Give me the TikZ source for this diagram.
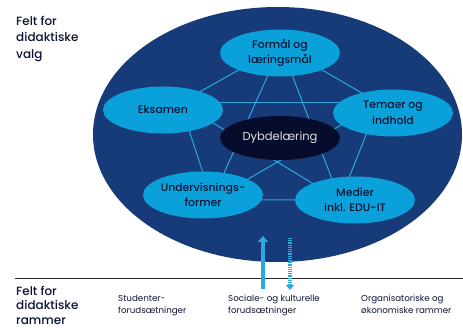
\documentclass[tikz,border=0pt]{standalone}
\usepackage{fontspec}
\setmainfont{Poppins}
\newfontfamily\medfont{Poppins Medium}
\usetikzlibrary{arrows.meta,shapes.geometric}
\definecolor{bigblue}{HTML}{173A78}
\definecolor{cyanell}{HTML}{0AA0DA}
\definecolor{navy}{HTML}{080C2C}
\definecolor{linkc}{HTML}{29A9E1}
\definecolor{txt}{HTML}{0D1433}
\pgfdeclarelayer{back}
\pgfdeclarelayer{lines}
\pgfsetlayers{back,lines,main}
\begin{document}
\begin{tikzpicture}[x=1pt,y=-1pt,
  outer/.style={ellipse, fill=cyanell, minimum width=120pt, minimum height=47pt, inner sep=0pt,
    font=\medfont\fontsize{10.9}{15.5}\selectfont, text=txt, align=center},
  core/.style={ellipse, fill=navy, minimum width=120pt, minimum height=44pt, inner sep=0pt,
    font=\fontsize{11.5}{14}\selectfont, text=white!88!black},
  link/.style={draw=linkc, line width=1pt},
  head/.style={font=\medfont\fontsize{12}{16.5}\selectfont, text=txt, align=left, anchor=north west, inner sep=0pt},
  foot/.style={font=\fontsize{8.7}{12}\selectfont, text=txt, align=left, anchor=north west, inner sep=0pt},
  flow/.style={draw=linkc, line width=3.5pt}
]
\useasboundingbox (0,0) rectangle (463,328);

\begin{pgfonlayer}{back}
\node[ellipse, fill=bigblue, minimum width=369pt, minimum height=255pt, inner sep=0pt] (field) at (277.5,134.5) {};
\end{pgfonlayer}

% pentagon vertices
\coordinate (pf) at (281,46);
\coordinate (pt) at (379,103);
\coordinate (pm) at (340,200);
\coordinate (pu) at (212,200);
\coordinate (pe) at (180,103);

\begin{pgfonlayer}{lines}
\draw[link] (pf) -- (pt) -- (pm) -- (pu) -- (pe) -- (pf);
\draw[link] (pf) -- (pm);
\draw[link] (pf) -- (pu);
\draw[link] (pe) -- (pt);
\draw[link] (pe) -- (pm);
\draw[link] (pt) -- (pu);
\end{pgfonlayer}

\node[outer] (formaal) at (280,53) {Formål og\\læringsmål};
\node[outer] (eksamen) at (163,110) {Eksamen};
\node[outer] (temaer) at (393,113) {Temaer og\\indhold};
\node[outer] (underv) at (203,195) {Undervisnings-\\former};
\node[outer] (medier) at (355,200) {Medier\\inkl. EDU-IT};
\node[core] (dybde) at (280,138) {Dybdelæring};

\node[head] (valg) at (16,16) {Felt for\\didaktiske\\valg};
\node[head, font=\medfont\fontsize{12}{14.5}\selectfont] (rammer) at (16,286) {Felt for\\didaktiske\\rammer};

\coordinate (ruleL) at (15,278);
\coordinate (ruleR) at (463,278);
\draw[black!85, line width=0.8pt] (ruleL) -- (ruleR);

\node[foot] (stud) at (118,295) {Studenter-\\forudsætninger};
\node[foot] (soc) at (228,295) {Sociale- og kulturelle\\forudsætninger};
\node[foot] (org) at (361,295) {Organisatoriske og\\økonomiske rammer};

\coordinate (upS) at (263,289);
\coordinate (upE) at (263,236);
\coordinate (dnS) at (290,238);
\coordinate (dnE) at (290,290);
\draw[flow, -{Triangle[width=10pt,length=6pt]}] (upS) -- (upE);
\draw[flow, dash pattern=on 1.3pt off 0.9pt, -{Triangle[width=8pt,length=5pt]}] (dnS) -- (dnE);
\end{tikzpicture}
\end{document}
